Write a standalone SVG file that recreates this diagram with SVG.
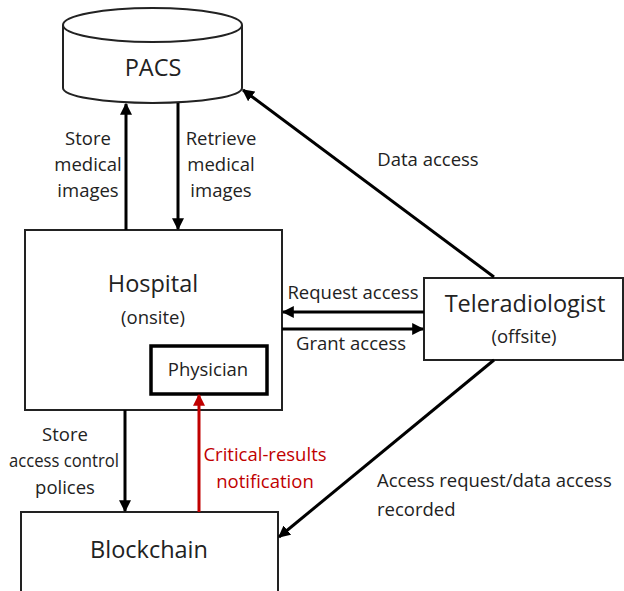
<svg xmlns="http://www.w3.org/2000/svg" width="624" height="591" viewBox="0 0 624 591">
<style>
text{font-family:"Open Sans","Liberation Sans",sans-serif;fill:#222;text-anchor:middle}
.big{font-size:23.5px}
.sm{font-size:18.5px}
.box{fill:#fff;stroke:#222;stroke-width:2}
.ln{stroke:#000;stroke-width:3;fill:none}
.red{stroke:#c00000;stroke-width:3;fill:none}
.rt{fill:#c00000}
</style>
<defs>
<marker id="ah" viewBox="0 0 10 10" refX="9" refY="5" markerWidth="4" markerHeight="4" orient="auto" markerUnits="strokeWidth"><path d="M0,0 L10,5 L0,10 z" fill="#000"/></marker>
<marker id="ahr" viewBox="0 0 10 10" refX="9" refY="5" markerWidth="4" markerHeight="4" orient="auto" markerUnits="strokeWidth"><path d="M0,0 L10,5 L0,10 z" fill="#c00000"/></marker>
</defs>
<rect width="624" height="591" fill="#fff"/>
<g id="pacs">
<path class="box" d="M63,25 L63,88 A89.5,15 0 0 0 242,88 L242,25"/>
<ellipse class="box" cx="152.5" cy="25" rx="89.5" ry="17"/>
<text class="big" x="153" y="76">PACS</text>
</g>
<g id="hospital">
<rect class="box" x="25" y="230" width="257" height="180"/>
<text class="big" x="153" y="292">Hospital</text>
<text class="sm" x="153" y="324">(onsite)</text>
</g>
<g id="physician">
<rect x="151" y="346" width="116" height="48" fill="#fff" stroke="#000" stroke-width="3.5"/>
<text class="sm" x="208" y="376">Physician</text>
</g>
<g id="teleradiologist">
<rect class="box" x="424" y="278" width="199" height="82"/>
<text class="big" x="525" y="312">Teleradiologist</text>
<text class="sm" x="524" y="343">(offsite)</text>
</g>
<g id="blockchain">
<rect class="box" x="21" y="512" width="257" height="90"/>
<text class="big" x="149" y="558">Blockchain</text>
</g>
<g id="connectors">
<line class="ln" x1="126" y1="230" x2="126" y2="104" marker-end="url(#ah)"/>
<line class="ln" x1="178" y1="103" x2="178" y2="229" marker-end="url(#ah)"/>
<line class="ln" x1="494" y1="277" x2="243" y2="90" marker-end="url(#ah)"/>
<line class="ln" x1="424" y1="312" x2="283" y2="312" marker-end="url(#ah)"/>
<line class="ln" x1="282" y1="329" x2="423" y2="329" marker-end="url(#ah)"/>
<line class="ln" x1="125" y1="410" x2="125" y2="511" marker-end="url(#ah)"/>
<line class="red" x1="199" y1="512" x2="199" y2="395" marker-end="url(#ahr)"/>
<line class="ln" x1="494" y1="360" x2="279" y2="537" marker-end="url(#ah)"/>
</g>
<g id="labels">
<text class="sm" x="88" y="145">Store</text>
<text class="sm" x="88" y="171">medical</text>
<text class="sm" x="88" y="197">images</text>
<text class="sm" x="221" y="145">Retrieve</text>
<text class="sm" x="221" y="171">medical</text>
<text class="sm" x="221" y="197">images</text>
<text class="sm" x="428" y="166">Data access</text>
<text class="sm" x="353" y="299">Request access</text>
<text class="sm" x="351" y="350">Grant access</text>
<text class="sm" x="65" y="441">Store</text>
<text class="sm" x="64" y="467" textLength="110" lengthAdjust="spacingAndGlyphs">access control</text>
<text class="sm" x="65" y="494">polices</text>
<text class="sm rt" x="265" y="461">Critical-results</text>
<text class="sm rt" x="265" y="488">notification</text>
<text class="sm" x="377" y="487" style="text-anchor:start">Access request/data access</text>
<text class="sm" x="377" y="516" style="text-anchor:start">recorded</text>
</g>
</svg>
